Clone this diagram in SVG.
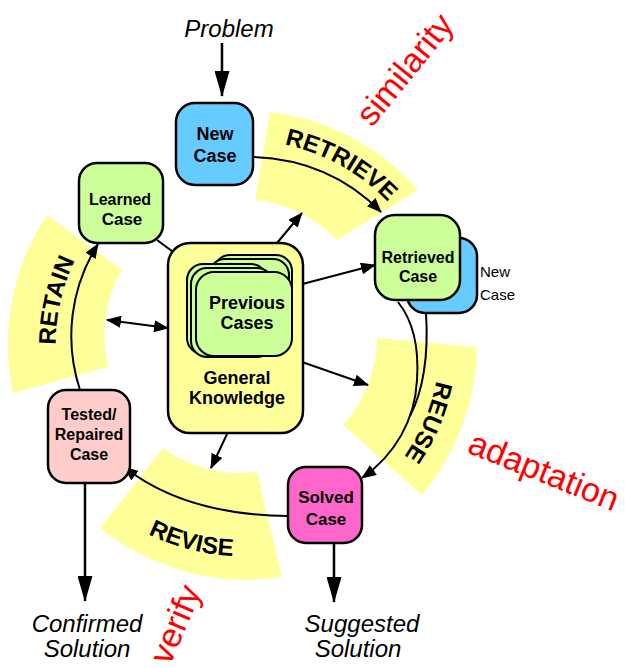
<svg xmlns="http://www.w3.org/2000/svg" width="625" height="668" viewBox="0 0 625 668">
<style>
.band{fill:#FFFF99;stroke:none}
.node{stroke:#000;stroke-width:2.5}
.card{fill:#CCFF99;stroke:#000;stroke-width:2}
.lbl{font-family:"Liberation Sans",Arial,sans-serif;font-weight:bold;fill:#000;text-anchor:middle}
.it{font-family:"Liberation Sans",Arial,sans-serif;font-style:italic;font-size:24px;fill:#000;text-anchor:middle}
.red{font-family:"Liberation Sans",Arial,sans-serif;font-size:34px;fill:#FF0000}
.stage{font-family:"Liberation Sans",Arial,sans-serif;font-weight:bold;font-size:24px;fill:#000}
.con{fill:none;stroke:#000;stroke-width:2}
.thick{fill:none;stroke:#000;stroke-width:2.5}
</style>
<defs>
<marker id="ah" markerWidth="15" markerHeight="12" refX="14" refY="6" orient="auto-start-reverse" markerUnits="userSpaceOnUse"><path d="M0,0 L15,6 L0,12 Z" fill="#000"/></marker>
<marker id="big" markerWidth="26" markerHeight="15" refX="25" refY="7.5" orient="auto" markerUnits="userSpaceOnUse"><path d="M0,0 L26,7.5 L0,15 Z" fill="#000"/></marker>
<path id="pRetrieve" d="M169.3,153.5 A203,203 0 0 1 441.3,304.3"/>
<path id="pReuse" d="M418.4,253.1 A198,198 0 0 1 299.9,532.3"/>
<path id="pRevise" d="M50.1,435.4 A213,213 0 0 0 366.3,516.0"/>
<path id="pRetain" d="M95,460 A192,192 0 0 1 160,173"/>
</defs>
<rect width="625" height="668" fill="#FFFFFF"/>
<g id="bands">
<path class="band" d="M270,112 A234,234 0 0 1 418,190 L337,240 A133,133 0 0 0 255,200 Z"/>
<path class="band" d="M377,338 L477,347 A234,234 0 0 1 422,495 L343,425 A133,133 0 0 0 377,338 Z"/>
<path class="band" d="M257,472 L282,577 A234,234 0 0 1 100,528 L163,448 A133,133 0 0 0 257,472 Z"/>
<path class="band" d="M13,393 A234,234 0 0 1 47,215 L122,270 A133,133 0 0 0 108,367 Z"/>
</g>
<g id="stage-labels">
<text class="stage"><textPath href="#pRetrieve" startOffset="50%" text-anchor="middle">RETRIEVE</textPath></text>
<text class="stage"><textPath href="#pReuse" startOffset="50%" text-anchor="middle">REUSE</textPath></text>
<text class="stage"><textPath href="#pRevise" startOffset="50%" text-anchor="middle">REVISE</textPath></text>
<text class="stage"><textPath href="#pRetain" startOffset="50%" text-anchor="middle">RETAIN</textPath></text>
</g>
<g id="red-labels">
<text class="red" transform="translate(372,128) rotate(-51)">similarity</text>
<text class="red" transform="translate(466,452) rotate(22)">adaptation</text>
<text class="red" transform="translate(170,666) rotate(-67)">verify</text>
</g>
<g id="connectors">
<path class="thick" d="M222,43 L222,96" marker-end="url(#big)"/>
<path class="con" d="M254,157 Q330,160 381,212" marker-end="url(#ah)"/>
<path class="con" d="M277,243 L302,213" marker-end="url(#ah)"/>
<path class="con" d="M157,240 L195,268" marker-end="url(#ah)"/>
<path class="con" d="M291,287 L375,265" marker-end="url(#ah)"/>
<path class="con" d="M302,362 L368,385" marker-end="url(#ah)"/>
<path class="con" d="M228,432 L211,468" marker-end="url(#ah)"/>
<path class="con" d="M107,320 L168,328" marker-start="url(#ah)" marker-end="url(#ah)"/>
<path class="con" d="M80,390 A172,172 0 0 1 98,244" marker-end="url(#ah)"/>
<path class="con" d="M288,516 Q185,515 124,467" marker-end="url(#ah)"/>
<path class="con" d="M398,302 C414,322 419,350 417,380 C415,420 395,455 362,478" marker-end="url(#ah)"/>
<path class="con" d="M426,313 C428,345 426,385 410,416"/>
<path class="thick" d="M85,483 L85,601" marker-end="url(#big)"/>
<path class="thick" d="M334,543 L334,602" marker-end="url(#big)"/>
</g>
<g id="problem">
<text class="it" x="229" y="37">Problem</text>
</g>
<g id="new-case">
<rect class="node" x="176" y="103" width="77" height="82" rx="19" fill="#66CCFF"/>
<text class="lbl" x="215" y="140" font-size="18">New</text>
<text class="lbl" x="215" y="162" font-size="18">Case</text>
</g>
<g id="learned-case">
<rect class="node" x="79" y="163" width="84" height="80" rx="18" fill="#CCFF99"/>
<text class="lbl" x="120" y="205" font-size="16">Learned</text>
<text class="lbl" x="122" y="225" font-size="17">Case</text>
</g>
<g id="general-knowledge">
<rect class="node" x="168" y="243" width="135" height="190" rx="22" fill="#FFFF99"/>
<text class="lbl" x="237" y="384" font-size="18">General</text>
<text class="lbl" x="237" y="404" font-size="18">Knowledge</text>
</g>
<g id="previous-cases">
<rect class="card" x="214" y="255" width="78" height="88" rx="16"/>
<rect class="card" x="209" y="259" width="80" height="88" rx="16"/>
<rect class="card" x="187" y="264" width="80" height="90" rx="16"/>
<rect class="card" x="191" y="268" width="82" height="89" rx="16"/>
<rect class="card" x="196" y="272" width="96" height="84" rx="18"/>
<text class="lbl" x="247" y="309" font-size="18">Previous</text>
<text class="lbl" x="247" y="329" font-size="18">Cases</text>
</g>
<g id="retrieved-case">
<rect class="node" x="407" y="238" width="70" height="75" rx="18" fill="#66CCFF"/>
<rect class="node" x="375" y="215" width="85" height="85" rx="20" fill="#CCFF99"/>
<text class="lbl" x="418" y="263" font-size="16">Retrieved</text>
<text class="lbl" x="418" y="282" font-size="16">Case</text>
<text x="480" y="277" font-family="Liberation Sans, Arial, sans-serif" font-size="15">New</text>
<text x="480" y="300" font-family="Liberation Sans, Arial, sans-serif" font-size="15">Case</text>
</g>
<g id="tested-case">
<rect class="node" x="48" y="390" width="82" height="93" rx="18" fill="#FFCCCC"/>
<text class="lbl" x="89" y="420" font-size="16">Tested/</text>
<text class="lbl" x="89" y="440" font-size="16">Repaired</text>
<text class="lbl" x="89" y="460" font-size="16">Case</text>
</g>
<g id="solved-case">
<rect class="node" x="288" y="467" width="74" height="76" rx="18" fill="#FF66CC"/>
<text class="lbl" x="326" y="503" font-size="17">Solved</text>
<text class="lbl" x="326" y="525" font-size="17">Case</text>
</g>
<g id="confirmed-solution">
<text class="it" x="87" y="632">Confirmed</text>
<text class="it" x="87" y="657">Solution</text>
</g>
<g id="suggested-solution">
<text class="it" x="362" y="632">Suggested</text>
<text class="it" x="358" y="657">Solution</text>
</g>
</svg>
